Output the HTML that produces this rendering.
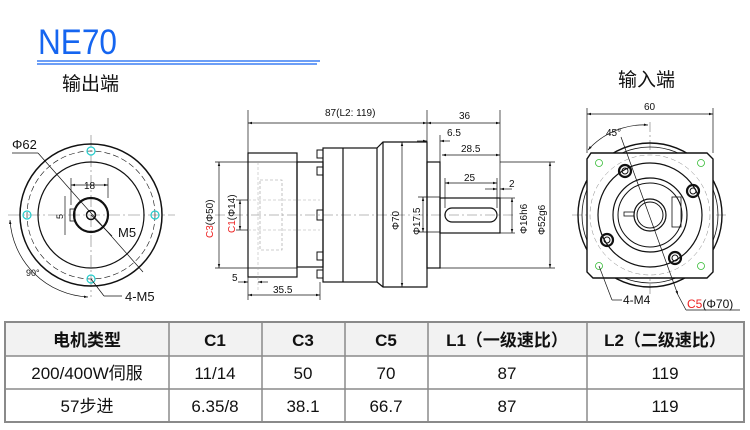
<!DOCTYPE html>
<html><head><meta charset="utf-8"><style>
body{margin:0;background:#fff;width:750px;height:430px;overflow:hidden}
svg{display:block}
text{font-family:"Liberation Sans","Noto Sans CJK SC",sans-serif;fill:#111}
</style></head><body>
<svg width="750" height="430" viewBox="0 0 750 430" xmlns="http://www.w3.org/2000/svg">
<defs><marker id="a" viewBox="0 0 10 10" refX="10" refY="5" markerWidth="6" markerHeight="6" orient="auto-start-reverse"><path d="M0,2 L10,5 L0,8z" fill="#111"/></marker></defs>
<text x="38" y="54" font-size="35" textLength="79" lengthAdjust="spacingAndGlyphs" style="fill:#1565f0">NE70</text>
<line x1="37" y1="61" x2="320" y2="61" stroke="#1565f0" stroke-width="1.2"/>
<line x1="37" y1="64" x2="317" y2="64" stroke="#1565f0" stroke-width="1.2"/>
<text x="62" y="90" font-size="19">输出端</text>
<text x="618" y="86" font-size="19">输入端</text>

<!-- left view -->
<g fill="none" stroke="#111">
<line x1="8" y1="215" x2="175" y2="215" stroke="#777" stroke-width="0.6" stroke-dasharray="12,3,2,3"/>
<line x1="91" y1="135" x2="91" y2="297" stroke="#777" stroke-width="0.6" stroke-dasharray="12,3,2,3"/>
<circle cx="91" cy="215" r="71" stroke-width="1.5"/>
<circle cx="91" cy="215" r="64" stroke-width="0.6" stroke-dasharray="6,3"/>
<circle cx="91" cy="215" r="53" stroke-width="1.2"/>
<circle cx="91" cy="215" r="17" stroke-width="2.2"/>
<circle cx="91" cy="215" r="4.5" stroke-width="1.5"/>
<rect x="70" y="209" width="5" height="12" stroke-width="0.8"/>
<g stroke="#2cc" stroke-width="1.2"><circle cx="91" cy="151" r="4"/><circle cx="91" cy="279" r="4"/><circle cx="27" cy="215" r="4"/><circle cx="155" cy="215" r="4"/></g>
<g stroke-width="0.7"><line x1="12" y1="153" x2="38" y2="153"/><line x1="38" y1="153" x2="143" y2="272"/>
<line x1="91" y1="215" x2="112" y2="236"/><line x1="91" y1="279" x2="104" y2="296"/><line x1="104" y1="296" x2="122" y2="296"/>
<line x1="71" y1="185" x2="108" y2="185" marker-start="url(#a)" marker-end="url(#a)"/>
<line x1="71" y1="178" x2="71" y2="205"/><line x1="108" y1="178" x2="108" y2="198"/>
<line x1="65" y1="196" x2="65" y2="235"/>
<path d="M10,220 A82,82 0 0 0 88,297" marker-start="url(#a)" marker-end="url(#a)"/></g>
</g>
<text x="12" y="149" font-size="13">Φ62</text>
<text x="84" y="189" font-size="10">18</text>
<text x="118" y="237" font-size="13">M5</text>
<text x="125" y="301" font-size="13">4-M5</text>
<text x="26" y="276" font-size="9">90°</text>
<text x="0" y="0" font-size="9" transform="translate(63,219) rotate(-90)">5</text>

<!-- middle view -->
<g fill="none" stroke="#111" stroke-width="1.2">
<line x1="215" y1="215" x2="515" y2="215" stroke="#777" stroke-width="0.6" stroke-dasharray="10,3,2,3"/>
<rect x="248" y="153" width="49" height="124"/>
<line x1="248" y1="162" x2="297" y2="162" stroke-width="0.8"/><line x1="248" y1="268" x2="297" y2="268" stroke-width="0.8"/>
<rect x="260" y="180" width="22" height="70" stroke="#999" stroke-width="0.6" stroke-dasharray="3,2"/>
<line x1="258" y1="162" x2="258" y2="292" stroke="#aaa" stroke-width="0.5" stroke-dasharray="3,2"/>
<line x1="248" y1="200" x2="320" y2="200" stroke="#aaa" stroke-width="0.5" stroke-dasharray="3,2"/>
<line x1="248" y1="230" x2="320" y2="230" stroke="#aaa" stroke-width="0.5" stroke-dasharray="3,2"/>
<rect x="297" y="162" width="26" height="105"/>
<g stroke-width="1"><rect x="317" y="150" width="6" height="8"/><rect x="317" y="167" width="6" height="8"/><rect x="317" y="210" width="6" height="10"/><rect x="317" y="252" width="6" height="8"/><rect x="317" y="270" width="6" height="8"/></g>
<rect x="323" y="148" width="54" height="134"/>
<line x1="343" y1="148" x2="343" y2="282"/>
<path d="M377,148 L383,142 L427,142 L427,287 L383,287 L377,282"/>
<line x1="383" y1="142" x2="383" y2="287"/>
<rect x="427" y="162" width="13" height="106"/>
<rect x="440" y="198" width="60" height="35"/>
<rect x="445" y="208" width="52" height="14" rx="7"/>
<g stroke-width="0.7">
<line x1="248" y1="110" x2="248" y2="153"/><line x1="427" y1="110" x2="427" y2="142"/><line x1="500" y1="110" x2="500" y2="198"/>
<line x1="248" y1="123" x2="427" y2="123" marker-start="url(#a)" marker-end="url(#a)"/>
<line x1="427" y1="123" x2="500" y2="123" marker-start="url(#a)" marker-end="url(#a)"/>
<line x1="417" y1="141" x2="427" y2="141" marker-end="url(#a)"/><line x1="450" y1="141" x2="440" y2="141" marker-end="url(#a)"/><line x1="440" y1="135" x2="440" y2="162"/>
<line x1="442" y1="155" x2="500" y2="155" marker-start="url(#a)" marker-end="url(#a)"/>
<line x1="445" y1="183" x2="497" y2="183" marker-start="url(#a)" marker-end="url(#a)"/><line x1="445" y1="178" x2="445" y2="208"/><line x1="497" y1="178" x2="497" y2="208"/>
<line x1="485" y1="189" x2="497" y2="189" marker-end="url(#a)"/><line x1="512" y1="189" x2="500" y2="189" marker-end="url(#a)"/>
<line x1="500" y1="162" x2="555" y2="162"/><line x1="440" y1="268" x2="555" y2="268"/>
<line x1="550" y1="162" x2="550" y2="268" marker-start="url(#a)" marker-end="url(#a)"/>
<line x1="500" y1="198" x2="515" y2="198"/><line x1="500" y1="233" x2="515" y2="233"/>
<line x1="512" y1="198" x2="512" y2="233" marker-start="url(#a)" marker-end="url(#a)"/>
<line x1="423" y1="197" x2="423" y2="232" marker-start="url(#a)" marker-end="url(#a)"/><line x1="418" y1="197" x2="440" y2="197"/><line x1="418" y1="232" x2="440" y2="232"/>
<line x1="402" y1="142" x2="402" y2="287" marker-start="url(#a)" marker-end="url(#a)"/>
<line x1="215" y1="162" x2="248" y2="162"/><line x1="215" y1="268" x2="248" y2="268"/>
<line x1="219" y1="162" x2="219" y2="268" marker-start="url(#a)" marker-end="url(#a)"/>
<line x1="236" y1="200" x2="248" y2="200"/><line x1="236" y1="230" x2="248" y2="230"/>
<line x1="240" y1="200" x2="240" y2="230" marker-start="url(#a)" marker-end="url(#a)"/>
<line x1="248" y1="277" x2="248" y2="300"/><line x1="320" y1="282" x2="320" y2="300"/>
<line x1="248" y1="295" x2="320" y2="295" marker-start="url(#a)" marker-end="url(#a)"/>
<line x1="238" y1="282" x2="248" y2="282" marker-end="url(#a)"/><line x1="268" y1="282" x2="258" y2="282" marker-end="url(#a)"/>
</g></g>
<text x="325" y="116" font-size="10">87(L2: 119)</text>
<text x="459" y="119" font-size="10">36</text>
<text x="447" y="136" font-size="10">6.5</text>
<text x="461" y="152" font-size="10">28.5</text>
<text x="464" y="181" font-size="10">25</text>
<text x="509" y="187" font-size="10">2</text>
<text x="232" y="281" font-size="10">5</text>
<text x="273" y="293" font-size="10">35.5</text>
<text font-size="10" transform="translate(399,230) rotate(-90)">Φ70</text>
<text font-size="10" transform="translate(420,235) rotate(-90)">Φ17.5</text>
<text font-size="10" transform="translate(527,234) rotate(-90)">Φ16h6</text>
<text font-size="10" transform="translate(545,235) rotate(-90)">Φ52g6</text>
<text font-size="10" transform="translate(213,238) rotate(-90)"><tspan style="fill:#e22">C3</tspan>(Φ50)</text>
<text font-size="10" transform="translate(235,233) rotate(-90)"><tspan style="fill:#e22">C1</tspan>(Φ14)</text>

<!-- right view -->
<g fill="none" stroke="#111">
<line x1="572" y1="215" x2="728" y2="215" stroke="#777" stroke-width="0.6" stroke-dasharray="10,3,2,3"/>
<line x1="650" y1="122" x2="650" y2="295" stroke="#777" stroke-width="0.6" stroke-dasharray="10,3,2,3"/>
<circle cx="650" cy="215" r="72" stroke-width="1.4"/>
<circle cx="650" cy="215" r="68" stroke-width="0.8"/>
<path d="M591,153 L707,153 L713,159 L713,272 L707,278 L593,278 L587,272 L587,159z" fill="#fff" stroke-width="1.4"/>
<circle cx="650" cy="215" r="60" stroke="#888" stroke-width="0.5" stroke-dasharray="5,3"/>
<circle cx="650" cy="215" r="52" stroke-width="1.2"/>
<circle cx="650" cy="215" r="37" stroke-width="1.2"/>
<circle cx="650" cy="215" r="32" stroke-width="1"/>
<circle cx="650" cy="215" r="16" stroke-width="1.2"/>
<circle cx="650" cy="215" r="13" stroke-width="1"/>
<rect x="624" y="212" width="10" height="4" stroke-width="0.8"/>
<rect x="672" y="197" width="9" height="30" stroke-width="0.8"/>
<g stroke-width="2.2"><circle cx="625" cy="171" r="6"/><circle cx="693" cy="191" r="6"/><circle cx="607" cy="240" r="6"/><circle cx="675" cy="258" r="6"/></g>
<g stroke-width="1"><circle cx="625" cy="171" r="3"/><circle cx="693" cy="191" r="3"/><circle cx="607" cy="240" r="3"/><circle cx="675" cy="258" r="3"/></g>
<g stroke="#3b3" stroke-width="0.8"><circle cx="599" cy="163" r="3.5"/><circle cx="701" cy="163" r="3.5"/><circle cx="599" cy="266" r="3.5"/><circle cx="701" cy="266" r="3.5"/></g>
<g stroke-width="0.7">
<line x1="587" y1="108" x2="587" y2="153"/><line x1="713" y1="108" x2="713" y2="153"/>
<line x1="587" y1="114" x2="713" y2="114" marker-start="url(#a)" marker-end="url(#a)"/>
<path d="M588,150 A75,75 0 0 1 648,125" marker-start="url(#a)" marker-end="url(#a)"/>
<line x1="621" y1="137" x2="678" y2="295" marker-end="url(#a)"/>
<line x1="599" y1="266" x2="612" y2="300"/><line x1="612" y1="300" x2="622" y2="300"/>
<line x1="678" y1="295" x2="686" y2="310"/><line x1="686" y1="310" x2="740" y2="310"/>
</g></g>
<text x="644" y="110" font-size="10">60</text>
<text x="606" y="136" font-size="10">45°</text>
<text x="623" y="304" font-size="12">4-M4</text>
<text x="687" y="308" font-size="12"><tspan style="fill:#e22">C5</tspan>(Φ70)</text>

<!-- table -->
<g font-size="17">
<rect x="5" y="322" width="739" height="34" fill="#f2f2f2"/>
<rect x="5" y="322" width="739" height="100" fill="none" stroke="#8a8a8a" stroke-width="2"/>
<g stroke="#8a8a8a" stroke-width="1.5"><line x1="5" y1="356" x2="744" y2="356"/><line x1="5" y1="389" x2="744" y2="389"/>
<line x1="169" y1="322" x2="169" y2="422"/><line x1="262" y1="322" x2="262" y2="422"/><line x1="345" y1="322" x2="345" y2="422"/><line x1="428" y1="322" x2="428" y2="422"/><line x1="587" y1="322" x2="587" y2="422"/></g>
<g text-anchor="middle" font-weight="bold" style="fill:#333"><text x="87" y="346">电机类型</text><text x="215" y="346">C1</text><text x="303" y="346">C3</text><text x="386" y="346">C5</text><text x="507" y="346">L1（一级速比）</text><text x="665" y="346">L2（二级速比）</text></g>
<g text-anchor="middle"><text x="87" y="379">200/400W伺服</text><text x="215" y="379">11/14</text><text x="303" y="379">50</text><text x="386" y="379">70</text><text x="507" y="379">87</text><text x="665" y="379">119</text>
<text x="87" y="412">57步进</text><text x="215" y="412">6.35/8</text><text x="303" y="412">38.1</text><text x="386" y="412">66.7</text><text x="507" y="412">87</text><text x="665" y="412">119</text></g>
</g>
</svg>
</body></html>
